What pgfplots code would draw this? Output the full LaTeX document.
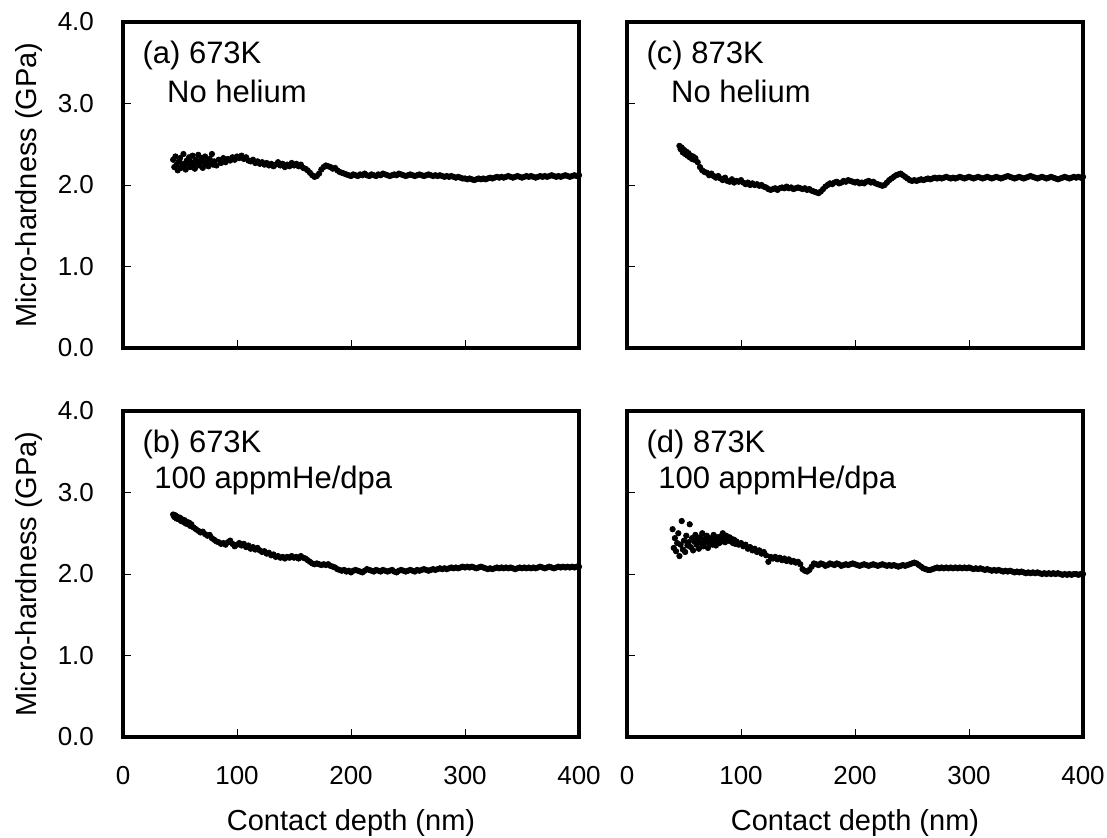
\documentclass[border=0pt]{standalone}
\usepackage{fontspec}
\setmainfont{Liberation Sans}
\usepackage{pgfplots}
\pgfplotsset{compat=1.18}

\pgfplotsset{
  panel/.style={
    width=228pt, height=163pt, scale only axis,
    xmin=0, xmax=400, ymin=0, ymax=4,
    axis line style={line width=2pt},
    tick align=inside, xtick pos=bottom, ytick pos=left,
    xtick={0,100,200,300,400}, ytick={0,1,2,3,4},
    major tick length=4pt,
    tick style={black, line width=0.5pt},
    /pgf/number format/assume math mode=true,
    ticklabel style={font=\fontsize{13}{15}\selectfont},
    yticklabel style={xshift=-11pt, /pgf/number format/.cd, fixed, fixed zerofill, precision=1},
    xticklabel style={yshift=-11pt},
    xlabel style={at={(axis description cs:0.5,-0.264)}, anchor=center, font=\fontsize{14.5}{16}\selectfont},
    ylabel style={at={(axis description cs:-0.206,0.5)}, anchor=center, font=\fontsize{14.5}{16}\selectfont},
  },
  pts/.style={only marks, mark=*, mark size=1.35pt, black},
}
\tikzset{lab/.style={anchor=west, inner sep=0pt, font=\fontsize{15.5}{17}\selectfont}}

\begin{document}
\begin{tikzpicture}
\path[use as bounding box] (0,0) rectangle (553.5pt,418.5pt);

% (a) 673K, no helium
\begin{axis}[panel, at={(61.5pt,244.5pt)}, anchor=south west,
  xticklabels={}, ylabel={Micro-hardness (GPa)}]
\addplot[pts] coordinates {
(44,2.31)(45,2.22)(46,2.35)(47,2.25)(48,2.18)(49,2.29)(50,2.33)(51,2.21)(52,2.26)(53,2.38)
(54,2.24)(55,2.19)(56,2.30)(57,2.27)(58,2.34)(59,2.22)(60,2.28)(61,2.36)(62,2.25)(63,2.20)
(64,2.31)(65,2.27)(66,2.37)(67,2.24)(68,2.29)(69,2.33)(70,2.21)(71,2.28)(72,2.35)(73,2.26)
(74,2.30)(75,2.23)(76,2.32)(77,2.27)(78,2.38)(79,2.25)(80,2.29)(82,2.24)(84,2.31)(86,2.27)
(88,2.33)(90,2.28)(92,2.32)(94,2.30)(96,2.34)(98,2.31)(100,2.35)(102,2.33)(104,2.36)(106,2.32)
(108,2.34)(110,2.30)(112,2.29)(114,2.31)(116,2.27)(118,2.29)(120,2.26)(122,2.28)(124,2.25)(126,2.27)
(128,2.24)(130,2.26)(132,2.23)(134,2.25)(136,2.28)(138,2.24)(140,2.26)(142,2.22)(144,2.25)(146,2.23)
(148,2.27)(150,2.24)(152,2.26)(154,2.23)(156,2.25)(158,2.21)(160,2.20)(162,2.18)(164,2.15)(166,2.12)
(168,2.10)(170,2.11)(172,2.14)(174,2.19)(176,2.22)(178,2.24)(180,2.23)(182,2.22)(184,2.20)(186,2.21)
(188,2.18)(190,2.16)(192,2.15)(194,2.14)(196,2.13)(198,2.12)(200,2.11)(202,2.13)(204,2.12)(206,2.11)
(208,2.13)(210,2.12)(212,2.14)(214,2.12)(216,2.11)(218,2.13)(220,2.12)(222,2.11)(224,2.13)(226,2.12)
(228,2.14)(230,2.13)(232,2.12)(234,2.11)(236,2.12)(238,2.13)(240,2.12)(242,2.14)(244,2.13)(246,2.12)
(248,2.11)(250,2.12)(252,2.13)(254,2.12)(256,2.11)(258,2.12)(260,2.13)(262,2.12)(264,2.11)(266,2.12)
(268,2.13)(270,2.12)(272,2.11)(274,2.12)(276,2.11)(278,2.12)(280,2.11)(282,2.10)(284,2.11)(286,2.10)
(288,2.11)(290,2.10)(292,2.09)(294,2.10)(296,2.09)(298,2.08)(300,2.08)(302,2.07)(304,2.08)(306,2.07)
(308,2.06)(310,2.07)(312,2.08)(314,2.07)(316,2.08)(318,2.07)(320,2.08)(322,2.09)(324,2.08)(326,2.09)
(328,2.10)(330,2.09)(332,2.10)(334,2.09)(336,2.10)(338,2.11)(340,2.10)(342,2.09)(344,2.10)(346,2.11)
(348,2.10)(350,2.09)(352,2.10)(354,2.11)(356,2.10)(358,2.11)(360,2.10)(362,2.09)(364,2.10)(366,2.11)
(368,2.10)(370,2.11)(372,2.10)(374,2.11)(376,2.12)(378,2.11)(380,2.10)(382,2.11)(384,2.10)(386,2.11)
(388,2.12)(390,2.11)(392,2.10)(394,2.11)(396,2.12)(398,2.11)(400,2.12)
};
\node[lab] at (axis description cs:0.042,0.896) {(a) 673K};
\node[lab] at (axis description cs:0.096,0.788) {No helium};
\end{axis}

% (c) 873K, no helium
\begin{axis}[panel, at={(313.5pt,244.5pt)}, anchor=south west,
  xticklabels={}, yticklabels={}]
\addplot[pts] coordinates {
(46,2.48)(47,2.44)(48,2.46)(49,2.40)(50,2.43)(51,2.38)(52,2.41)(53,2.36)(54,2.39)(55,2.34)
(56,2.36)(57,2.32)(58,2.35)(59,2.31)(60,2.33)(62,2.28)(64,2.22)(66,2.18)(68,2.16)(70,2.15)
(72,2.12)(74,2.14)(76,2.11)(78,2.09)(80,2.11)(82,2.08)(84,2.06)(86,2.09)(88,2.05)(90,2.04)
(92,2.07)(94,2.03)(96,2.05)(98,2.04)(100,2.06)(102,2.03)(104,2.01)(106,2.03)(108,2.00)(110,2.02)
(112,2.00)(114,2.01)(116,1.99)(118,2.00)(120,1.98)(122,1.97)(124,1.95)(126,1.94)(128,1.95)(130,1.96)
(132,1.94)(134,1.96)(136,1.97)(138,1.96)(140,1.98)(142,1.96)(144,1.97)(146,1.95)(148,1.96)(150,1.97)
(152,1.96)(154,1.95)(156,1.96)(158,1.94)(160,1.95)(162,1.93)(164,1.92)(166,1.91)(168,1.90)(170,1.92)
(172,1.95)(174,1.98)(176,2.00)(178,2.02)(180,2.01)(182,2.03)(184,2.04)(186,2.02)(188,2.03)(190,2.05)
(192,2.04)(194,2.06)(196,2.05)(198,2.04)(200,2.03)(202,2.04)(204,2.02)(206,2.03)(208,2.02)(210,2.04)
(212,2.05)(214,2.03)(216,2.04)(218,2.02)(220,2.01)(222,2.00)(224,1.99)(226,2.00)(228,2.03)(230,2.06)
(232,2.08)(234,2.10)(236,2.12)(238,2.13)(240,2.14)(242,2.12)(244,2.10)(246,2.08)(248,2.06)(250,2.05)
(252,2.06)(254,2.05)(256,2.06)(258,2.07)(260,2.06)(262,2.07)(264,2.08)(266,2.07)(268,2.08)(270,2.09)
(272,2.08)(274,2.09)(276,2.08)(278,2.09)(280,2.10)(282,2.09)(284,2.08)(286,2.09)(288,2.08)(290,2.09)
(292,2.10)(294,2.09)(296,2.08)(298,2.09)(300,2.10)(302,2.09)(304,2.08)(306,2.09)(308,2.10)(310,2.09)
(312,2.08)(314,2.09)(316,2.10)(318,2.09)(320,2.08)(322,2.09)(324,2.10)(326,2.09)(328,2.08)(330,2.09)
(332,2.10)(334,2.11)(336,2.10)(338,2.09)(340,2.08)(342,2.09)(344,2.10)(346,2.09)(348,2.08)(350,2.09)
(352,2.10)(354,2.11)(356,2.10)(358,2.09)(360,2.08)(362,2.09)(364,2.10)(366,2.09)(368,2.08)(370,2.09)
(372,2.10)(374,2.09)(376,2.08)(378,2.07)(380,2.08)(382,2.09)(384,2.10)(386,2.09)(388,2.08)(390,2.09)
(392,2.10)(394,2.09)(396,2.10)(398,2.09)(400,2.10)
};
\node[lab] at (axis description cs:0.042,0.896) {(c) 873K};
\node[lab] at (axis description cs:0.096,0.788) {No helium};
\end{axis}

% (b) 673K, 100 appmHe/dpa
\begin{axis}[panel, at={(61.5pt,50pt)}, anchor=south west,
  xlabel={Contact depth (nm)}, ylabel={Micro-hardness (GPa)}]
\addplot[pts] coordinates {
(44,2.73)(45,2.70)(46,2.72)(47,2.68)(48,2.70)(49,2.67)(50,2.69)(51,2.65)(52,2.67)(53,2.64)
(54,2.66)(55,2.62)(56,2.64)(57,2.61)(58,2.63)(59,2.59)(60,2.61)(62,2.57)(64,2.55)(66,2.53)
(68,2.51)(70,2.52)(72,2.49)(74,2.47)(76,2.48)(78,2.44)(80,2.42)(82,2.40)(84,2.39)(86,2.37)
(88,2.38)(90,2.36)(92,2.39)(94,2.41)(96,2.37)(98,2.34)(100,2.36)(102,2.38)(104,2.35)(106,2.37)
(108,2.33)(110,2.35)(112,2.31)(114,2.33)(116,2.30)(118,2.32)(120,2.29)(122,2.27)(124,2.28)(126,2.25)
(128,2.26)(130,2.23)(132,2.24)(134,2.21)(136,2.22)(138,2.20)(140,2.21)(142,2.19)(144,2.21)(146,2.20)
(148,2.22)(150,2.20)(152,2.21)(154,2.19)(156,2.22)(158,2.20)(160,2.19)(162,2.17)(164,2.15)(166,2.13)
(168,2.12)(170,2.13)(172,2.12)(174,2.11)(176,2.12)(178,2.11)(180,2.12)(182,2.10)(184,2.09)(186,2.08)
(188,2.06)(190,2.05)(192,2.04)(194,2.05)(196,2.03)(198,2.04)(200,2.02)(202,2.04)(204,2.05)(206,2.04)
(208,2.03)(210,2.02)(212,2.04)(214,2.06)(216,2.05)(218,2.04)(220,2.03)(222,2.05)(224,2.04)(226,2.03)
(228,2.05)(230,2.04)(232,2.03)(234,2.04)(236,2.05)(238,2.03)(240,2.02)(242,2.04)(244,2.05)(246,2.04)
(248,2.03)(250,2.04)(252,2.05)(254,2.04)(256,2.03)(258,2.05)(260,2.04)(262,2.05)(264,2.06)(266,2.05)
(268,2.04)(270,2.05)(272,2.06)(274,2.05)(276,2.06)(278,2.07)(280,2.06)(282,2.07)(284,2.06)(286,2.07)
(288,2.08)(290,2.07)(292,2.08)(294,2.07)(296,2.08)(298,2.09)(300,2.08)(302,2.09)(304,2.08)(306,2.09)
(308,2.08)(310,2.07)(312,2.08)(314,2.09)(316,2.08)(318,2.07)(320,2.06)(322,2.07)(324,2.06)(326,2.07)
(328,2.08)(330,2.07)(332,2.08)(334,2.07)(336,2.08)(338,2.07)(340,2.08)(342,2.07)(344,2.06)(346,2.07)
(348,2.08)(350,2.07)(352,2.08)(354,2.07)(356,2.08)(358,2.07)(360,2.08)(362,2.07)(364,2.08)(366,2.09)
(368,2.08)(370,2.07)(372,2.08)(374,2.09)(376,2.08)(378,2.07)(380,2.08)(382,2.09)(384,2.08)(386,2.09)
(388,2.08)(390,2.09)(392,2.08)(394,2.09)(396,2.08)(398,2.09)(400,2.09)
};
\node[lab] at (axis description cs:0.042,0.896) {(b) 673K};
\node[lab] at (axis description cs:0.068,0.788) {100 appmHe/dpa};
\end{axis}

% (d) 873K, 100 appmHe/dpa
\begin{axis}[panel, at={(313.5pt,50pt)}, anchor=south west,
  xlabel={Contact depth (nm)}, yticklabels={}]
\addplot[pts] coordinates {
(40,2.55)(41,2.32)(42,2.44)(43,2.28)(44,2.38)(45,2.50)(46,2.22)(47,2.36)(48,2.65)(49,2.30)
(50,2.41)(51,2.27)(52,2.47)(53,2.35)(54,2.39)(55,2.61)(56,2.33)(57,2.44)(58,2.29)(59,2.40)
(60,2.48)(61,2.36)(62,2.42)(63,2.31)(64,2.45)(65,2.38)(66,2.50)(67,2.34)(68,2.43)(69,2.39)
(70,2.47)(71,2.32)(72,2.41)(73,2.37)(74,2.44)(75,2.36)(76,2.48)(77,2.40)(78,2.35)(79,2.45)
(80,2.42)(81,2.38)(82,2.46)(83,2.40)(84,2.50)(85,2.43)(86,2.39)(87,2.47)(88,2.44)(89,2.41)
(90,2.45)(91,2.40)(92,2.43)(93,2.38)(94,2.42)(95,2.37)(96,2.40)(98,2.36)(100,2.38)(102,2.34)
(104,2.36)(106,2.31)(108,2.33)(110,2.29)(112,2.31)(114,2.27)(116,2.29)(118,2.25)(120,2.27)(122,2.23)
(124,2.15)(126,2.21)(128,2.19)(130,2.21)(132,2.18)(134,2.20)(136,2.17)(138,2.19)(140,2.16)(142,2.18)
(144,2.15)(146,2.16)(148,2.14)(150,2.15)(152,2.12)(154,2.06)(156,2.04)(158,2.03)(160,2.05)(162,2.09)
(164,2.13)(166,2.12)(168,2.11)(170,2.13)(172,2.12)(174,2.10)(176,2.11)(178,2.13)(180,2.12)(182,2.11)
(184,2.13)(186,2.12)(188,2.10)(190,2.11)(192,2.12)(194,2.11)(196,2.12)(198,2.13)(200,2.12)(202,2.11)
(204,2.10)(206,2.11)(208,2.12)(210,2.11)(212,2.10)(214,2.11)(216,2.12)(218,2.11)(220,2.10)(222,2.11)
(224,2.12)(226,2.11)(228,2.10)(230,2.11)(232,2.10)(234,2.11)(236,2.10)(238,2.09)(240,2.10)(242,2.11)
(244,2.10)(246,2.11)(248,2.12)(250,2.13)(252,2.14)(254,2.13)(256,2.11)(258,2.09)(260,2.07)(262,2.06)
(264,2.05)(266,2.05)(268,2.06)(270,2.07)(272,2.08)(274,2.07)(276,2.08)(278,2.07)(280,2.08)(282,2.07)
(284,2.08)(286,2.07)(288,2.08)(290,2.07)(292,2.08)(294,2.07)(296,2.08)(298,2.07)(300,2.08)(302,2.07)
(304,2.06)(306,2.07)(308,2.06)(310,2.07)(312,2.06)(314,2.05)(316,2.06)(318,2.05)(320,2.04)(322,2.05)
(324,2.04)(326,2.05)(328,2.04)(330,2.03)(332,2.04)(334,2.03)(336,2.04)(338,2.03)(340,2.02)(342,2.03)
(344,2.02)(346,2.03)(348,2.02)(350,2.01)(352,2.02)(354,2.01)(356,2.02)(358,2.01)(360,2.02)(362,2.01)
(364,2.00)(366,2.01)(368,2.00)(370,2.01)(372,2.00)(374,2.01)(376,2.00)(378,2.01)(380,2.00)(382,1.99)
(384,2.00)(386,1.99)(388,2.00)(390,1.99)(392,2.00)(394,2.00)(396,1.99)(398,2.00)(400,2.00)
};
\node[lab] at (axis description cs:0.042,0.896) {(d) 873K};
\node[lab] at (axis description cs:0.068,0.788) {100 appmHe/dpa};
\end{axis}
\end{tikzpicture}
\end{document}
